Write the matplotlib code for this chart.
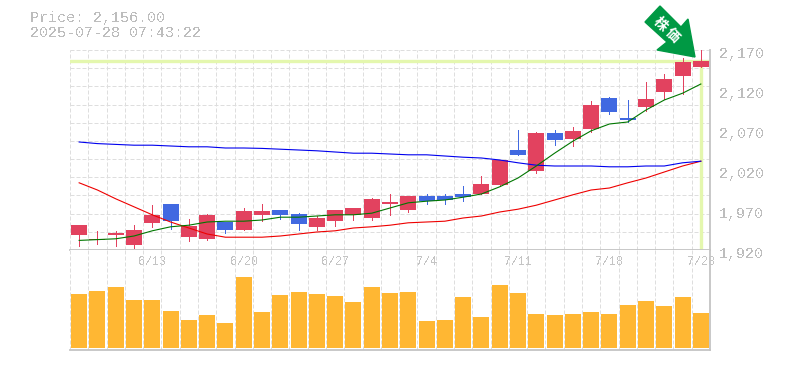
import matplotlib
matplotlib.use('Agg')
import matplotlib.pyplot as plt
from matplotlib.patches import Polygon
from matplotlib.transforms import Affine2D

plt.rcParams['font.family'] = ['Liberation Mono', 'Noto Sans CJK JP', 'DejaVu Sans']
plt.rcParams['text.antialiased'] = False

dates = {4: '6/13', 9: '6/20', 14: '6/27', 19: '7/4', 24: '7/11', 29: '7/18', 34: '7/28'}

opens = [1938.75, 1932.5, 1939, 1926, 1954, 1977.5, 1936, 1934, 1955, 1945, 1964, 1970, 1965, 1949, 1956, 1964, 1960, 1977.5,
         1970, 1987.5, 1987.5, 1990, 1990, 2001, 2045, 2019, 2066, 2059, 2071, 2110, 2085, 2099, 2117.5, 2137.5, 2149]
closes = [1951.25, 1933.75, 1941, 1945, 1964, 1956, 1950, 1964, 1945, 1969, 1969, 1964, 1952.5, 1960, 1970, 1972.5, 1984, 1980,
          1987.5, 1981, 1982.5, 1986, 2002.5, 2032.5, 2039, 2066, 2057.5, 2069, 2101, 2092.5, 2082.5, 2109, 2134, 2155, 2156]
highs = [1951.25, 1944, 1944, 1951, 1976, 1977.5, 1959, 1965, 1955, 1972.5, 1977.5, 1970, 1966, 1962.5, 1970, 1972.5, 1985, 1990,
         1987.5, 1990, 1990, 2000, 2012.5, 2032.5, 2070, 2067.5, 2070, 2074, 2106, 2111, 2107.5, 2130, 2140, 2160, 2170]
lows = [1925.5, 1927.5, 1925, 1923, 1949, 1946, 1931, 1932.5, 1941, 1945, 1956, 1959, 1945, 1945, 1950, 1957.5, 1957.5, 1964,
        1967.5, 1977.5, 1977.5, 1981, 1990, 2000, 2039, 2016, 2051, 2050, 2067.5, 2090, 2080, 2094, 2109, 2115, 2149]

ma_short = [1932, 1933, 1934, 1937.5, 1944, 1949, 1951, 1955, 1956, 1956, 1957.5, 1961, 1961, 1962.5, 1964, 1964, 1966, 1972.5,
            1979, 1981, 1982.5, 1986, 1990, 1999, 2010, 2025, 2041, 2056, 2069, 2077.5, 2080, 2095, 2107.5, 2116, 2127.5]
ma_mid = [2055, 2053, 2052, 2051, 2051, 2050, 2049, 2049, 2047.5, 2047.5, 2047, 2046, 2045, 2044, 2042.5, 2041, 2041, 2040,
          2039, 2039, 2037.5, 2036, 2035, 2032.5, 2029, 2026, 2025, 2025, 2025, 2024, 2024, 2025, 2025, 2029, 2031]
ma_long = [2004, 1995, 1984, 1974, 1964, 1955, 1947.5, 1940, 1936, 1936, 1936, 1937.5, 1940, 1942.5, 1944, 1947.5, 1949, 1951,
           1954, 1955, 1956, 1960, 1962.5, 1967.5, 1971, 1976, 1982.5, 1989, 1995, 1997.5, 2004, 2010, 2017.5, 2025, 2031]

volumes = [54, 57, 61, 48, 48, 37, 28, 33, 25, 71, 36, 53, 56, 54, 52, 46, 61, 55,
           56, 27, 28, 51, 31, 63, 55, 34, 33, 34, 36, 34, 43, 47, 42, 51, 35]

price_ticks = [1920, 1970, 2020, 2070, 2120, 2170]
last_price = 2156
X = list(range(35))

fig = plt.figure(figsize=(7.85, 3.70), dpi=100)
ax = fig.add_axes([70 / 785, 1 - 250 / 370, 640 / 785, 200 / 370])
vol = fig.add_axes([70 / 785, 1 - 350 / 370, 640 / 785, 100 / 370])

grid_col = '#dedede'
grid_kw = dict(color=grid_col, lw=0.72, ls=(0, (4, 2)), zorder=1)
for a in (ax, vol):
    a.set_xlim(-0.5, 34.5)
    for i in range(35):
        a.axvline(i - 0.5, **grid_kw)
    for s in a.spines.values():
        s.set_visible(False)
    for side in ('bottom', 'right'):
        a.spines[side].set_visible(True)
        a.spines[side].set_color('#c4c4c4')
        a.spines[side].set_linewidth(1.3)
    a.tick_params(length=0)
    a.set_xticks([])
    a.set_yticks([])

ax.set_ylim(1920, 2170)
step = 250 / 11
for k in range(1, 12):
    ax.axhline(1920 + k * step, **grid_kw)

ax.axhline(last_price, color='#e4f7ae', lw=2.4, zorder=2)
ax.plot([34, 34], [1920, last_price], color='#e4f7ae', lw=2.4, zorder=2)

RED = '#e2425f'
BLUE = '#4169e1'
for i in X:
    c = RED if closes[i] >= opens[i] else BLUE
    ax.plot([i, i], [lows[i], highs[i]], color=c, lw=0.72, zorder=3, clip_on=False)
    ax.bar(i, abs(closes[i] - opens[i]), 0.875, bottom=min(opens[i], closes[i]), color=c, zorder=4)

ax.plot(X, ma_long, color='#ee0000', lw=0.8, zorder=5)
ax.plot(X, ma_mid, color='#0000ee', lw=0.8, zorder=5)
ax.plot(X, ma_short, color='#007700', lw=0.8, zorder=5)

for p in price_ticks:
    ax.annotate(f'{p:,}', xy=(1, p), xycoords=('axes fraction', 'data'), xytext=(9, -4),
                textcoords='offset pixels', fontsize=10.8, color='#bdbdbd', va='center', annotation_clip=False)

vol.bar(X, volumes, 0.875, color='#ffb733', zorder=3)
vol.set_ylim(-2, 98)
for i, d in dates.items():
    vol.text(i, 86, d, fontsize=8.5, color='#c4c4c4', ha='center', va='center', zorder=5)

fig.text(30 / 785, 1 - 18 / 370, 'Price: 2,156.00', fontsize=10.8, color='#bdbdbd', va='center')
fig.text(30 / 785, 1 - 33 / 370, '2025-07-28 07:43:22', fontsize=10.8, color='#bdbdbd', va='center')

# badge arrow, drawn in figure pixels with the origin at the top left
px = Affine2D().scale(1, -1).translate(0, 370)
arrow = [(660, 6), (645, 22), (667, 42), (657, 50), (695, 57), (688, 19), (681, 27)]
fig.add_artist(Polygon(arrow, closed=True, color='#009944', transform=px, zorder=10))
fig.text(660 / 785, 1 - 24 / 370, '株', fontsize=10, color='white', rotation=-45, weight='bold',
         ha='center', va='center', zorder=11, antialiased=True)
fig.text(672 / 785, 1 - 35 / 370, '価', fontsize=10, color='white', rotation=-45, weight='bold',
         ha='center', va='center', zorder=11, antialiased=True)

fig.savefig('out.png', dpi=100)
